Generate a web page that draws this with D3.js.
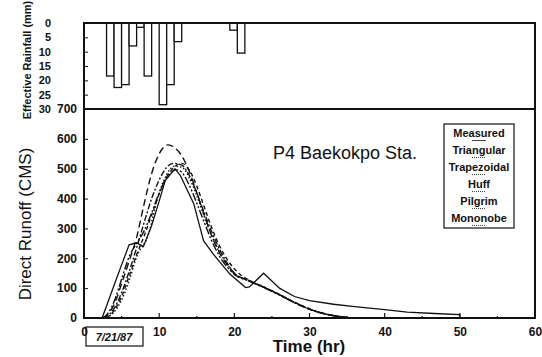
<!DOCTYPE html>
<html>
<head>
<meta charset="utf-8">
<script src="https://cdn.jsdelivr.net/npm/d3@7/dist/d3.min.js"></script>
<style>
  body { margin: 0; background: #fff; }
  svg { display: block; font-family: "Liberation Sans", Arial, sans-serif; }
</style>
</head>
<body>
<svg id="chart" width="542" height="357"></svg>
<script>
// effective rainfall, hourly blocks hanging from the top
const rainStart = [3, 4, 5, 6, 7, 8, 10, 11, 12, 19.4, 20.4];
const rainDepth = [18.5, 22.5, 21.5, 8, 1.5, 18.5, 28.5, 21.5, 6.5, 2.5, 10.5];

// hydrographs (time hr, runoff CMS)
const measured = [[0, 0], [2.4, 0], [3, 40], [4, 110], [5, 178], [6, 245], [7, 252], [7.9, 239], [9, 310],
  [10.1, 400], [10.8, 460], [12.1, 500], [12.8, 478], [14.6, 383], [15.9, 259], [17.2, 214], [19.4, 147],
  [21.5, 102], [22, 104], [23.9, 150], [26, 100], [28, 72], [30, 58], [33.2, 46], [36, 38], [40, 28],
  [43, 20], [46.6, 15], [50, 11], [50, 0]];
const triangular = [[2.5, 0], [3, 8], [4, 45], [5, 115], [6, 190], [7, 270], [7.9, 371], [9, 484], [10, 550],
  [11.2, 580], [12, 572], [12.8, 551], [14.1, 485], [15, 420], [16, 345], [17.2, 262], [18, 220], [19, 180],
  [20, 150], [22, 125], [24, 103], [26, 78], [28, 52], [30, 30], [32, 14], [34, 5], [36, 0], [40, 0]];
const trapezoidal = [[2.5, 0], [3, 5], [4, 32], [5, 85], [6, 155], [7, 235], [8, 320], [9, 400], [10, 462],
  [11, 505], [11.9, 518], [13, 512], [14, 478], [15, 420], [16, 352], [17, 288], [18, 232], [19, 186],
  [20, 150], [22, 124], [24, 102], [26, 78], [28, 52], [30, 30], [32, 14], [34, 5], [36, 0], [40, 0]];
const huff = [[3, 0], [4, 20], [5, 60], [6, 125], [7, 205], [8.6, 282], [9.7, 394], [11, 480], [12, 508],
  [13, 505], [14, 470], [15, 410], [16, 340], [17, 275], [18, 222], [19, 182], [20, 150], [22, 124],
  [24, 102], [26, 78], [28, 52], [30, 30], [32, 14], [34, 5], [36, 0], [40, 0]];
const pilgrim = [[3, 0], [4, 25], [5, 72], [6, 140], [7, 212], [8, 275], [9, 345], [10, 415], [11, 472],
  [12, 505], [13, 518], [14, 496], [15, 442], [16, 372], [17, 302], [18.1, 238], [19.5, 180], [20.5, 152],
  [22, 126], [24, 103], [26, 79], [28, 53], [30, 31], [32, 15], [34, 5], [36, 0], [40, 0]];
const mononobe = [[2.5, 0], [3, 10], [4, 55], [5, 130], [6, 205], [7, 250], [8, 292], [9, 352], [10, 420],
  [11, 470], [12.3, 496], [13, 488], [14, 445], [15, 385], [16, 320], [17, 258], [18, 208], [19, 172],
  [20, 146], [22, 123], [24, 101], [26, 77], [28, 51], [30, 29], [32, 13], [34, 4], [36, 0], [40, 0]];

const seriesNames = ['Measured', 'Triangular', 'Trapezoidal', 'Huff', 'Pilgrim', 'Mononobe'];
const seriesData = [measured, triangular, trapezoidal, huff, pilgrim, mononobe];
const seriesDash = [null, '7,4', '6,2,2,2', '1.5,2', '4,3', '8,2,2,2,2,2'];

const xTicks = [0, 10, 20, 30, 40, 50, 60];
const runoffTicks = [0, 100, 200, 300, 400, 500, 600, 700];
const rainTicks = [0, 5, 10, 15, 20, 25, 30];

const svg = d3.select('#chart');
const m = { left: 84, right: 535, top: 23, mid: 109, bottom: 318 };

const x = d3.scaleLinear().domain([0, 60]).range([m.left, m.right]);
const yQ = d3.scaleLinear().domain([0, 700]).range([m.bottom, m.mid]);
const yR = d3.scaleLinear().domain([0, 30]).range([m.top, m.mid]);

// rainfall bars
svg.selectAll('.rain')
  .data(rainStart)
  .enter()
  .append('rect')
  .attr('x', d => x(d))
  .attr('y', m.top)
  .attr('width', d => x(d + 1) - x(d))
  .attr('height', (d, i) => yR(rainDepth[i]) - m.top)
  .attr('fill', 'white')
  .attr('stroke', '#111')
  .attr('stroke-width', 1.3);

// hydrograph lines
const line = d3.line().x(d => x(d[0])).y(d => yQ(d[1]));
svg.selectAll('.flow')
  .data(seriesData)
  .enter()
  .append('path')
  .attr('d', (d, i) => (i === 0 ? line.curve(d3.curveLinear) : line.curve(d3.curveMonotoneX))(d))
  .attr('fill', 'none')
  .attr('stroke', '#111')
  .attr('stroke-width', (d, i) => i === 0 ? 1.3 : 1.4)
  .attr('stroke-dasharray', (d, i) => seriesDash[i]);

// frame
svg.append('path')
  .attr('d', `M${m.left},${m.top}H${m.right}V${m.bottom}H${m.left}Z M${m.left},${m.mid}H${m.right}`)
  .attr('fill', 'none')
  .attr('stroke', '#111')
  .attr('stroke-width', 2);

// x axis
const xAxis = svg.append('g')
  .attr('transform', `translate(0,${m.bottom})`)
  .call(d3.axisBottom(x).tickValues(xTicks).tickSize(0).tickPadding(9).tickFormat(d3.format('d')));
xAxis.select('.domain').remove();
xAxis.selectAll('text').style('font-size', '12px').style('font-weight', 'bold').attr('fill', '#111');
svg.selectAll('.xtick')
  .data(d3.range(5, 60, 5))
  .enter()
  .append('line')
  .attr('x1', d => x(d)).attr('x2', d => x(d))
  .attr('y1', m.bottom).attr('y2', d => m.bottom - (d % 10 === 0 ? 5 : 2))
  .attr('stroke', '#111').attr('stroke-width', 1.2);

// runoff axis
const qAxis = svg.append('g')
  .attr('transform', `translate(${m.left},0)`)
  .call(d3.axisLeft(yQ).tickValues(runoffTicks).tickSize(-4).tickPadding(7));
qAxis.select('.domain').remove();
qAxis.selectAll('line').attr('stroke', '#111');
qAxis.selectAll('text').style('font-size', '12px').style('font-weight', 'bold').attr('fill', '#111');

// rainfall axis
const rAxis = svg.append('g')
  .attr('transform', `translate(${m.left},0)`)
  .call(d3.axisLeft(yR).tickValues(rainTicks).tickSize(-4).tickPadding(33));
rAxis.select('.domain').remove();
rAxis.selectAll('line').attr('stroke', '#111');
rAxis.selectAll('text').style('font-size', '11px').style('font-weight', 'bold').attr('fill', '#111');

// titles
svg.append('text')
  .attr('transform', 'translate(31,224) rotate(-90)')
  .attr('text-anchor', 'middle')
  .style('font-size', '17px')
  .attr('fill', '#111')
  .text('Direct Runoff (CMS)');
svg.append('text')
  .attr('transform', 'translate(31,60) rotate(-90)')
  .attr('text-anchor', 'middle')
  .style('font-size', '11px')
  .style('font-weight', 'bold')
  .attr('fill', '#111')
  .text('Effective Rainfall (mm)');
svg.append('text')
  .attr('x', 309).attr('y', 352)
  .attr('text-anchor', 'middle')
  .style('font-size', '17px')
  .style('font-weight', 'bold')
  .attr('fill', '#111')
  .text('Time (hr)');
svg.append('text')
  .attr('x', 273).attr('y', 159)
  .style('font-size', '18px')
  .attr('fill', '#111')
  .text('P4 Baekokpo Sta.');

// date box
svg.append('rect')
  .attr('x', 86).attr('y', 327).attr('width', 57).attr('height', 19)
  .attr('fill', 'none').attr('stroke', '#111').attr('stroke-width', 1.2);
svg.append('text')
  .attr('x', 114).attr('y', 341)
  .attr('text-anchor', 'middle')
  .style('font-size', '11px')
  .style('font-weight', 'bold')
  .style('font-style', 'italic')
  .attr('fill', '#111')
  .text('7/21/87');

// legend
const legend = svg.append('g');
legend.append('rect')
  .attr('x', 444).attr('y', 124).attr('width', 70).attr('height', 104)
  .attr('fill', 'white').attr('stroke', '#111').attr('stroke-width', 1.2);
legend.selectAll('text')
  .data(seriesNames)
  .enter()
  .append('text')
  .attr('x', 479)
  .attr('y', (d, i) => 137 + i * 17)
  .attr('text-anchor', 'middle')
  .style('font-size', '11px')
  .style('font-weight', 'bold')
  .attr('fill', '#111')
  .text(d => d);
legend.selectAll('line')
  .data(seriesNames)
  .enter()
  .append('line')
  .attr('x1', 472).attr('x2', 486)
  .attr('y1', (d, i) => 140.5 + i * 17)
  .attr('y2', (d, i) => 140.5 + i * 17)
  .attr('stroke', '#111')
  .attr('stroke-width', 0.8)
  .attr('stroke-dasharray', (d, i) => seriesDash[i] ? '1,1' : null);
</script>
</body>
</html>
